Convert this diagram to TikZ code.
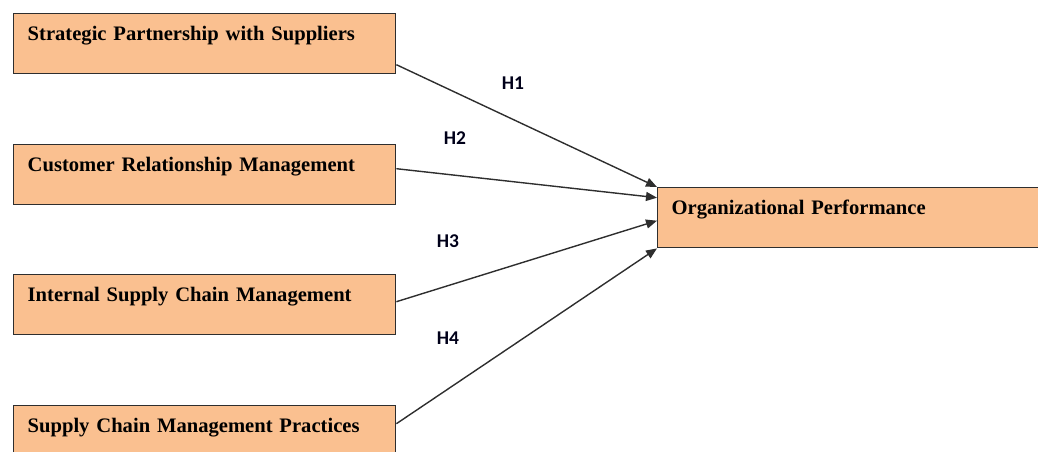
\documentclass[tikz,border=0pt]{standalone}
\usepackage{fontspec}
\setmainfont{Liberation Serif}[WordSpace=0.85]
\newfontfamily\hfont{Carlito}
\usetikzlibrary{arrows.meta,positioning}

\definecolor{boxfill}{HTML}{FAC090}
\definecolor{linegray}{HTML}{2E2E2E}

\tikzset{
  factor/.style={rectangle, draw=linegray, line width=1.4pt, fill=boxfill,
    anchor=north west, minimum width=382pt, inner xsep=14pt, inner ysep=0pt,
    text height=27pt, text depth=33pt, align=left,
    font=\fontsize{20.6}{24}\selectfont\bfseries},
  link/.style={draw=linegray, line width=1.4pt, -{Triangle[length=11pt,width=9pt]}},
  hyp/.style={font=\hfont\fontsize{19.5}{22}\selectfont\bfseries, text=black!90!blue}
}

\begin{document}
\begin{tikzpicture}[x=1pt,y=-1pt]
		\clip (0,0) rectangle (1038,452);
		\draw (13,13) node [factor, text width=354pt] (sps) {Strategic Partnership with Suppliers};
		\draw (13,144) node [factor, text width=354pt] (crm) {Customer Relationship Management};
		\draw (13,274) node [factor, text width=354pt] (iscm) {Internal Supply Chain Management};
		\draw (13,405) node [factor, text width=354pt] (scmp) {Supply Chain Management Practices};
		\draw (657,187) node [factor, minimum width=420pt, text width=392pt] (op) {Organizational Performance};
		\path
		([yshift=-21pt]sps.east) edge [link] (op.north west)
		([yshift=6pt]crm.east) edge [link] ([yshift=20pt]op.west)
		([yshift=3pt]iscm.east) edge [link] ([yshift=-3pt]op.west)
		([yshift=12pt]scmp.east) edge [link] (op.south west);
		\node [hyp] (h1) at (513,83) {H1};
		\node [hyp] (h2) at (455,138) {H2};
		\node [hyp] (h3) at (448,241) {H3};
		\node [hyp] (h4) at (448,338) {H4};
	\end{tikzpicture}
\end{document}
